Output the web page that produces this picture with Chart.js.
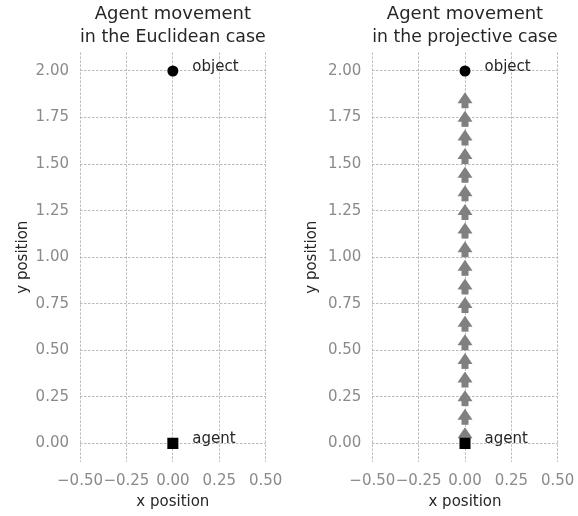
<!DOCTYPE html>
<html>
<head>
<meta charset="utf-8">
<script src="https://cdn.jsdelivr.net/npm/chart.js@4"></script>
<style>
  body { margin: 0; background: #fff; }
  .panel { position: absolute; top: 0; width: 289px; height: 516px; }
</style>
</head>
<body>
<div class="panel" style="left:0"><canvas id="euclid"></canvas></div>
<div class="panel" style="left:289px"><canvas id="proj"></canvas></div>
<script>
"use strict";

// data

const xTicks = [-0.5, -0.25, 0, 0.25, 0.5];
const yTicks = [0, 0.25, 0.5, 0.75, 1, 1.25, 1.5, 1.75, 2];

const objectPos = { x: 0, y: 2 };
const agentPos = { x: 0, y: 0 };
const labels = ["object", "agent"];

// arrows of the projective case (start and tip, x is 0 for all)
const arrowX = [0, 0, 0, 0, 0, 0, 0, 0, 0, 0, 0, 0, 0, 0, 0, 0, 0, 0, 0];
const arrowStart = [0.0, 0.1, 0.2, 0.3, 0.4, 0.5, 0.6, 0.7, 0.8, 0.9,
                    1.0, 1.1, 1.2, 1.3, 1.4, 1.5, 1.6, 1.7, 1.8];
const arrowTip = [0.086, 0.186, 0.286, 0.386, 0.486, 0.586, 0.686, 0.786, 0.886, 0.986,
                  1.086, 1.186, 1.286, 1.386, 1.486, 1.586, 1.686, 1.786, 1.886];

const font = "'DejaVu Sans', sans-serif";

function tickText(v) {
  return (v < 0 ? "\u2212" : "") + Math.abs(v).toFixed(2);
}

// arrows drawn under the markers

const arrowPlugin = {
  id: "arrows",
  beforeDatasetsDraw(chart, args, opts) {
    if (!opts.show) return;
    const ctx = chart.ctx;
    const xs = chart.scales.x, ys = chart.scales.y;
    ctx.save();
    ctx.fillStyle = "#808080";
    for (let i = 0; i < arrowX.length; i++) {
      const px = xs.getPixelForValue(arrowX[i]);
      const p0 = ys.getPixelForValue(arrowStart[i]);
      const p1 = ys.getPixelForValue(arrowTip[i]);
      const headLen = 11, headW = 7.5, stemW = 3.5;
      ctx.fillRect(px - stemW, p1 + headLen - 1, stemW * 2, p0 - p1 - headLen + 1);
      ctx.beginPath();
      ctx.moveTo(px, p1);
      ctx.lineTo(px - headW, p1 + headLen);
      ctx.lineTo(px + headW, p1 + headLen);
      ctx.closePath();
      ctx.fill();
    }
    ctx.restore();
  }
};

// text next to the object and the agent

const labelPlugin = {
  id: "pointLabels",
  afterDatasetsDraw(chart) {
    const ctx = chart.ctx;
    const xs = chart.scales.x, ys = chart.scales.y;
    const spots = [objectPos, agentPos];
    ctx.save();
    ctx.font = "15px " + font;
    ctx.fillStyle = "#262626";
    ctx.textAlign = "left";
    ctx.textBaseline = "alphabetic";
    spots.forEach((p, i) => {
      ctx.fillText(labels[i], xs.getPixelForValue(p.x + 0.105), ys.getPixelForValue(p.y));
    });
    ctx.restore();
  }
};

function makeChart(id, title, showArrows, axisWidth, padRight) {
  return new Chart(document.getElementById(id), {
    type: "scatter",
    data: {
      datasets: [
        {
          data: [objectPos],
          pointStyle: "circle",
          pointRadius: 5.5,
          backgroundColor: "#000",
          borderColor: "#000",
          borderWidth: 0
        },
        {
          data: [agentPos],
          pointStyle: "rect",
          pointRadius: 7.8,
          backgroundColor: "#000",
          borderColor: "#000",
          borderWidth: 0
        }
      ]
    },
    options: {
      responsive: true,
      maintainAspectRatio: false,
      animation: false,
      events: [],
      layout: { padding: { left: 0, right: padRight, top: 0, bottom: 0 } },
      plugins: {
        legend: { display: false },
        tooltip: { enabled: false },
        arrows: { show: showArrows },
        title: {
          display: true,
          fullSize: false,
          text: title,
          color: "#262626",
          font: { family: font, size: 18, weight: "normal", lineHeight: 1.28 },
          padding: { top: 3, bottom: 3.3 }
        }
      },
      scales: {
        x: {
          type: "linear",
          min: -0.5,
          max: 0.5,
          afterBuildTicks: axis => { axis.ticks = xTicks.map(v => ({ value: v })); },
          afterFit: axis => { axis.height = 54; axis.paddingLeft = 0; axis.paddingRight = 0; },
          border: { display: false, dash: [2.5, 1.5] },
          grid: { color: "#aaaaaa", lineWidth: 0.8, drawTicks: false },
          ticks: {
            autoSkip: false,
            maxRotation: 0,
            padding: 10.5,
            color: "#8a8a8a",
            font: { family: font, size: 15 },
            callback: v => tickText(v)
          },
          title: {
            display: true,
            text: "x position",
            color: "#262626",
            font: { family: font, size: 15 },
            padding: { top: 0, bottom: 5 }
          }
        },
        y: {
          type: "linear",
          min: -0.1,
          max: 2.1,
          afterBuildTicks: axis => { axis.ticks = yTicks.map(v => ({ value: v })); },
          afterFit: axis => { axis.width = axisWidth; axis.paddingTop = 0; axis.paddingBottom = 0; },
          border: { display: false, dash: [2.5, 1.5] },
          grid: { color: "#aaaaaa", lineWidth: 0.8, drawTicks: false },
          ticks: {
            autoSkip: false,
            padding: 11,
            color: "#8a8a8a",
            font: { family: font, size: 15 },
            callback: v => tickText(v)
          },
          title: {
            display: true,
            text: "y position",
            color: "#262626",
            font: { family: font, size: 15 },
            padding: { top: 14, bottom: 0 }
          }
        }
      }
    },
    plugins: [arrowPlugin, labelPlugin]
  });
}

makeChart("euclid", ["Agent movement", "in the Euclidean case"], false, 80, 23.3);
makeChart("proj", ["Agent movement", "in the projective case"], true, 83.3, 20.3);
</script>
</body>
</html>
